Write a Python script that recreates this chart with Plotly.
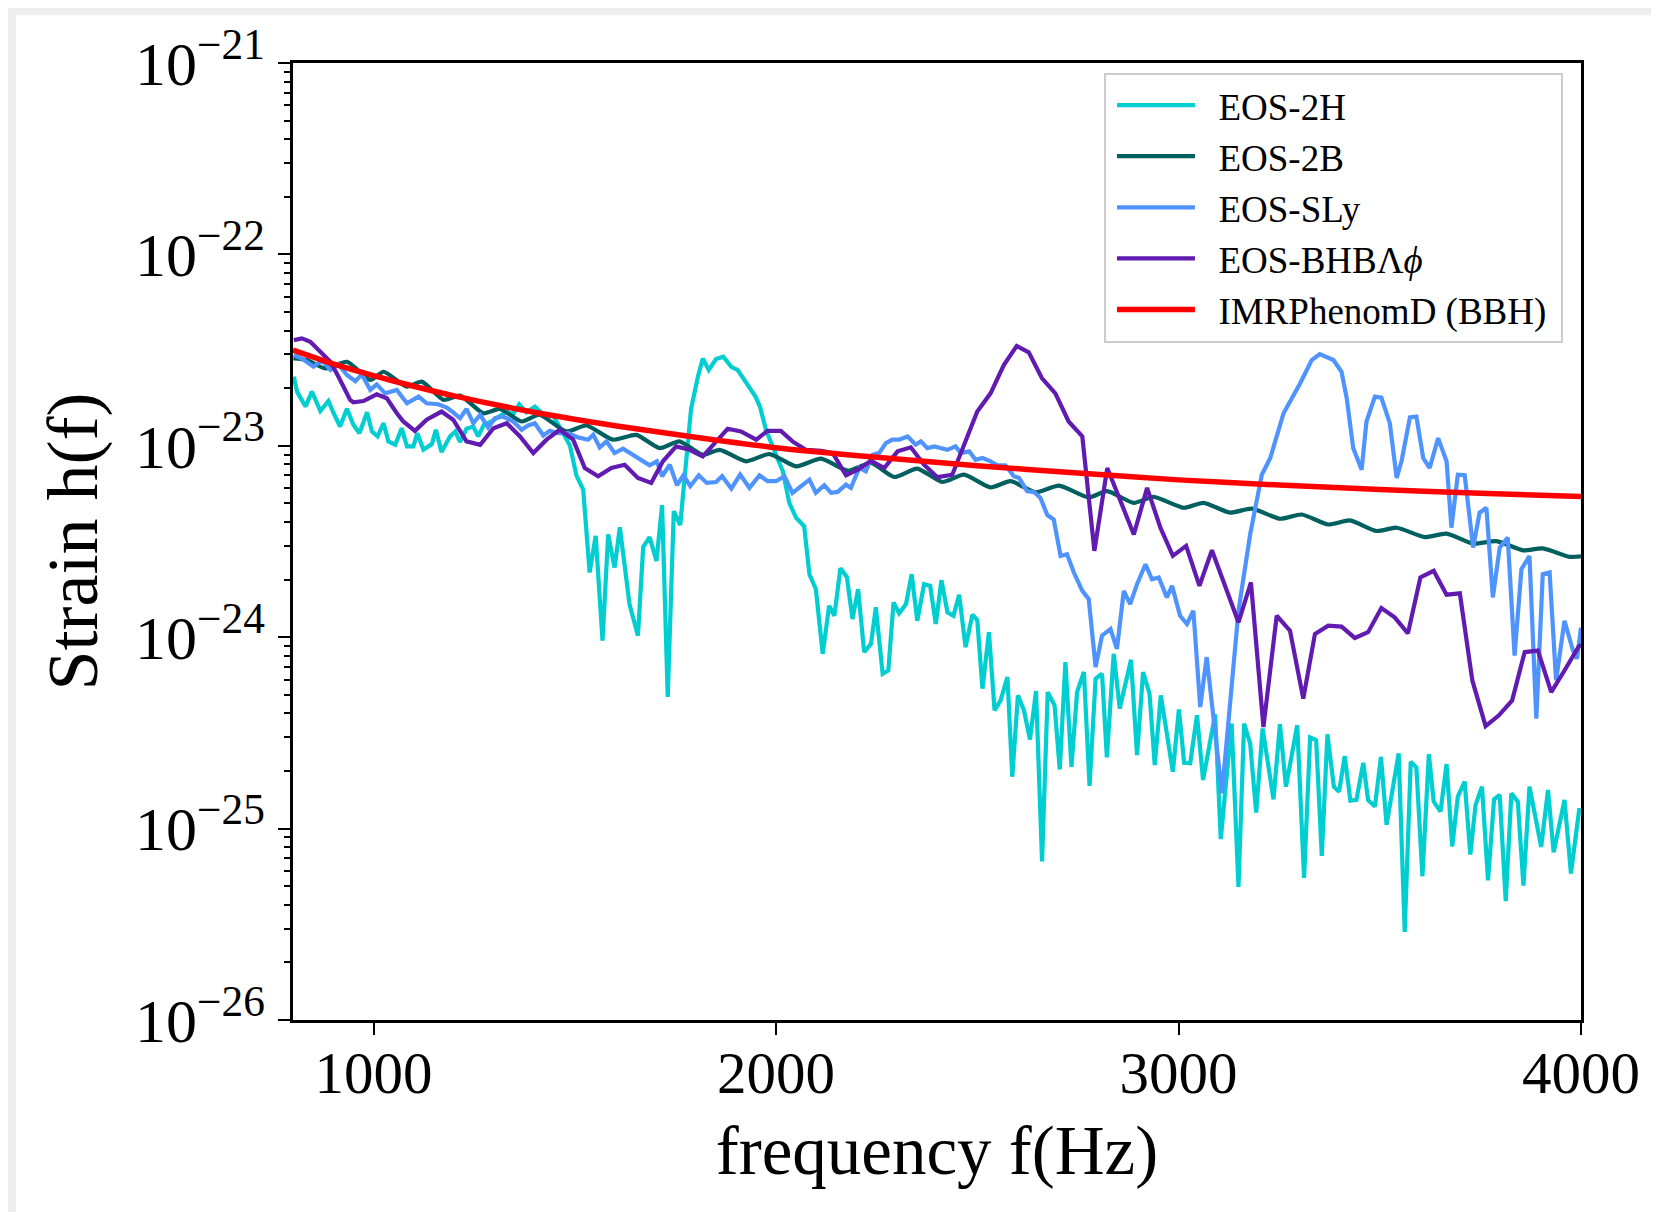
import numpy as np
import plotly.graph_objects as go

# frequencies in Hz; strain kept as log10 h(f)

# EOS-2H
f_2h = [802, 810, 831, 847, 868, 888, 901, 917, 934, 950, 965, 984, 996, 1010, 1025, 1037, 1054, 1070,
        1083, 1099, 1109, 1124, 1145, 1155, 1169, 1190, 1203, 1215, 1231, 1248, 1260, 1274, 1293, 1314,
        1331, 1347, 1362, 1380, 1401, 1422, 1446, 1471, 1488, 1504, 1521, 1537, 1552, 1569, 1583, 1599,
        1612, 1636, 1657, 1670, 1686, 1703, 1717, 1731, 1746, 1762, 1775, 1789, 1806, 1818, 1833, 1851,
        1869, 1889, 1905, 1924, 1949, 1960, 1975, 2000, 2017, 2033, 2050, 2070, 2083, 2099, 2116, 2132,
        2145, 2160, 2176, 2190, 2204, 2219, 2236, 2248, 2265, 2279, 2292, 2306, 2323, 2337, 2351, 2368,
        2383, 2397, 2411, 2426, 2441, 2455, 2471, 2488, 2500, 2513, 2529, 2543, 2558, 2575, 2587, 2601,
        2616, 2631, 2646, 2661, 2675, 2692, 2705, 2719, 2734, 2748, 2765, 2779, 2794, 2810, 2822, 2839,
        2854, 2882, 2897, 2912, 2928, 2941, 2956, 2986, 3001, 3014, 3029, 3046, 3061, 3091, 3105, 3132,
        3149, 3163, 3178, 3193, 3209, 3236, 3252, 3267, 3295, 3312, 3327, 3342, 3356, 3370, 3386, 3399,
        3413, 3427, 3442, 3459, 3471, 3488, 3503, 3517, 3547, 3562, 3577, 3591, 3606, 3622, 3634, 3651,
        3666, 3680, 3694, 3711, 3725, 3738, 3754, 3769, 3784, 3798, 3813, 3827, 3843, 3857, 3872, 3901,
        3918, 3932, 3959, 3975, 3996]
log_h_2h = [-22.639, -22.717, -22.795, -22.717, -22.818, -22.766, -22.830, -22.899, -22.807, -22.890,
            -22.934, -22.825, -22.925, -22.951, -22.882, -22.977, -22.994, -22.908, -23.003, -23.003,
            -22.934, -23.020, -22.991, -22.916, -23.033, -22.951, -22.925, -22.980, -22.911, -22.899,
            -22.951, -22.890, -22.873, -22.847, -22.821, -22.835, -22.783, -22.825, -22.795, -22.835,
            -22.842, -22.934, -22.998, -23.154, -23.229, -23.662, -23.471, -24.018, -23.463, -23.636,
            -23.425, -23.827, -23.992, -23.529, -23.477, -23.602, -23.310, -24.312, -23.341, -23.414,
            -23.099, -22.807, -22.639, -22.544, -22.604, -22.547, -22.535, -22.587, -22.604, -22.661,
            -22.743, -22.795, -22.916, -23.047, -23.133, -23.298, -23.376, -23.420, -23.671, -23.749,
            -24.087, -23.836, -23.888, -23.640, -23.685, -23.905, -23.749, -24.078, -24.035, -23.844,
            -24.191, -24.174, -23.818, -23.875, -23.827, -23.671, -23.914, -23.723, -23.732, -23.931,
            -23.702, -23.870, -23.888, -23.778, -24.052, -23.882, -23.910, -24.269, -23.974, -24.382,
            -24.330, -24.208, -24.729, -24.304, -24.382, -24.535, -24.281, -25.171, -24.287, -24.356,
            -24.691, -24.130, -24.677, -24.287, -24.182, -24.777, -24.217, -24.191, -24.628, -24.087,
            -24.373, -24.118, -24.616, -24.182, -24.295, -24.668, -24.304, -24.703, -24.378, -24.656,
            -24.659, -24.408, -24.746, -24.403, -25.055, -24.451, -25.305, -24.451, -24.555, -24.916,
            -24.477, -24.847, -24.455, -24.781, -24.460, -25.258, -24.524, -24.538, -25.142, -24.507,
            -24.781, -24.807, -24.621, -24.854, -24.850, -24.656, -24.850, -24.885, -24.625, -24.980,
            -24.607, -25.540, -24.651, -24.680, -25.249, -24.611, -24.859, -24.911, -24.663, -25.093,
            -24.833, -24.755, -25.136, -24.876, -24.781, -25.270, -24.847, -24.824, -25.379, -24.816,
            -24.859, -25.298, -24.781, -25.096, -24.798, -25.124, -24.850, -25.235, -24.893]

# EOS-2B
f_2b = [801, 835, 880, 934, 992, 1025, 1083, 1120, 1174, 1215, 1273, 1314, 1368, 1413, 1479, 1529, 1595,
        1653, 1711, 1760, 1818, 1860, 1926, 1984, 2050, 2112, 2178, 2236, 2294, 2351, 2413, 2467, 2533,
        2583, 2645, 2703, 2777, 2823, 2889, 2938, 3013, 3062, 3128, 3182, 3252, 3306, 3372, 3426, 3492,
        3542, 3612, 3666, 3732, 3790, 3856, 3905, 3971, 4000]
log_h_2b = [-22.544, -22.552, -22.596, -22.561, -22.656, -22.613, -22.691, -22.665, -22.760, -22.738,
            -22.830, -22.807, -22.873, -22.838, -22.925, -22.894, -22.968, -22.943, -23.012, -22.977,
            -23.047, -23.021, -23.081, -23.043, -23.107, -23.067, -23.130, -23.090, -23.163, -23.119,
            -23.189, -23.151, -23.217, -23.185, -23.243, -23.208, -23.269, -23.237, -23.298, -23.267,
            -23.324, -23.298, -23.349, -23.328, -23.381, -23.359, -23.411, -23.390, -23.445, -23.428,
            -23.477, -23.459, -23.511, -23.498, -23.546, -23.536, -23.580, -23.578]

# EOS-SLy
f_sly = [802, 822, 851, 872, 893, 913, 934, 955, 971, 992, 1008, 1029, 1058, 1083, 1112, 1132, 1161,
         1182, 1198, 1215, 1231, 1248, 1265, 1285, 1302, 1322, 1347, 1368, 1384, 1401, 1422, 1438, 1459,
         1484, 1508, 1533, 1546, 1562, 1579, 1599, 1620, 1645, 1665, 1686, 1704, 1717, 1736, 1754, 1770,
         1787, 1808, 1828, 1851, 1866, 1889, 1911, 1934, 1959, 1979, 2000, 2021, 2041, 2083, 2099, 2120,
         2137, 2153, 2174, 2186, 2207, 2223, 2240, 2256, 2273, 2289, 2306, 2327, 2347, 2360, 2376, 2393,
         2409, 2426, 2446, 2459, 2480, 2496, 2513, 2533, 2550, 2570, 2591, 2604, 2624, 2641, 2657, 2674,
         2690, 2707, 2723, 2740, 2761, 2777, 2794, 2810, 2831, 2847, 2864, 2880, 2897, 2918, 2934, 2951,
         2971, 2984, 3004, 3021, 3037, 3054, 3070, 3108, 3149, 3178, 3207, 3228, 3261, 3302, 3331, 3351,
         3385, 3405, 3418, 3434, 3455, 3467, 3488, 3504, 3525, 3542, 3554, 3575, 3591, 3608, 3624, 3645,
         3666, 3678, 3694, 3711, 3732, 3748, 3765, 3781, 3798, 3818, 3835, 3852, 3872, 3889, 3905, 3922,
         3938, 3959, 3980, 3990, 4000]
log_h_sly = [-22.526, -22.544, -22.587, -22.552, -22.604, -22.575, -22.630, -22.662, -22.627, -22.708,
             -22.679, -22.726, -22.708, -22.778, -22.743, -22.778, -22.783, -22.800, -22.825, -22.856,
             -22.807, -22.882, -22.838, -22.904, -22.856, -22.847, -22.873, -22.916, -22.894, -22.882,
             -22.946, -22.922, -22.934, -22.934, -22.956, -22.968, -22.942, -23.008, -22.977, -23.038,
             -23.015, -23.047, -23.078, -23.102, -23.081, -23.159, -23.099, -23.206, -23.154, -23.211,
             -23.154, -23.194, -23.189, -23.159, -23.223, -23.150, -23.220, -23.154, -23.185, -23.185,
             -23.159, -23.246, -23.177, -23.246, -23.206, -23.246, -23.241, -23.203, -23.220, -23.116,
             -23.133, -23.047, -23.038, -22.986, -22.968, -22.968, -22.951, -22.994, -22.977, -23.012,
             -23.003, -23.012, -23.021, -23.003, -23.038, -23.029, -23.073, -23.064, -23.081, -23.102,
             -23.102, -23.159, -23.168, -23.237, -23.241, -23.272, -23.362, -23.385, -23.575, -23.567,
             -23.662, -23.758, -23.801, -24.156, -23.992, -23.957, -24.061, -23.758, -23.827, -23.723,
             -23.619, -23.697, -23.688, -23.792, -23.732, -23.888, -23.931, -23.862, -24.365, -24.104,
             -24.816, -23.862, -23.463, -23.151, -23.064, -22.830, -22.674, -22.552, -22.521, -22.552,
             -22.613, -22.752, -23.012, -23.125, -22.873, -22.743, -22.748, -22.882, -23.168, -23.081,
             -22.852, -22.847, -23.064, -23.116, -22.960, -23.081, -23.428, -23.151, -23.154, -23.532,
             -23.350, -23.324, -23.792, -23.532, -23.480, -24.096, -23.645, -23.576, -24.425, -23.671,
             -23.662, -24.226, -23.914, -24.070, -24.113, -23.950]

# EOS-BHB Lambda phi
f_bhb = [802, 822, 843, 868, 893, 913, 942, 950, 975, 1008, 1033, 1058, 1074, 1103, 1132, 1169, 1198,
         1231, 1265, 1298, 1331, 1364, 1397, 1430, 1463, 1496, 1525, 1558, 1591, 1624, 1657, 1690, 1719,
         1752, 1785, 1818, 1851, 1880, 1913, 1951, 1979, 2012, 2041, 2074, 2112, 2141, 2174, 2203, 2236,
         2269, 2302, 2335, 2368, 2401, 2438, 2467, 2500, 2533, 2566, 2598, 2628, 2661, 2694, 2727, 2761,
         2791, 2823, 2889, 2922, 2955, 2986, 3019, 3052, 3083, 3149, 3180, 3211, 3244, 3277, 3310, 3339,
         3372, 3405, 3438, 3471, 3504, 3537, 3570, 3601, 3634, 3666, 3699, 3730, 3763, 3796, 3829, 3860,
         3893, 3926, 3959, 3994, 4000]
log_h_bhb = [-22.448, -22.439, -22.457, -22.509, -22.561, -22.639, -22.760, -22.773, -22.766, -22.731,
             -22.752, -22.830, -22.873, -22.922, -22.864, -22.821, -22.864, -22.977, -22.995, -22.908,
             -22.882, -22.951, -23.038, -22.968, -22.916, -22.968, -23.116, -23.159, -23.116, -23.099,
             -23.168, -23.194, -23.081, -23.003, -23.021, -23.055, -22.977, -22.911, -22.925, -22.968,
             -22.922, -22.922, -22.977, -23.021, -23.026, -23.038, -23.154, -23.125, -23.078, -23.116,
             -23.029, -23.008, -23.099, -23.164, -23.151, -22.994, -22.821, -22.726, -22.578, -22.478,
             -22.512, -22.648, -22.726, -22.873, -22.951, -23.549, -23.116, -23.463, -23.220, -23.428,
             -23.575, -23.523, -23.732, -23.546, -23.922, -23.714, -24.469, -23.888, -23.966, -24.321,
             -23.983, -23.940, -23.945, -24.004, -23.974, -23.848, -23.896, -23.980, -23.688, -23.653,
             -23.778, -23.771, -24.226, -24.465, -24.408, -24.330, -24.078, -24.070, -24.287, -24.174,
             -24.049, -24.040]

# IMRPhenomD (BBH)
f_bbh = [800, 900, 1000, 1100, 1200, 1400, 1600, 1800, 2000, 2250, 2500, 2750, 3000, 3250, 3500, 3750, 4000]
log_h_bbh = [-22.500, -22.572, -22.633, -22.689, -22.739, -22.825, -22.895, -22.955, -23.010, -23.060,
             -23.104, -23.142, -23.178, -23.205, -23.228, -23.248, -23.265]

SERIF = "Liberation Serif, Times New Roman, serif"
PAD = "\u00a0\u00a0"

fig = go.Figure()


def add_curve(f, logh, name, color, width, shape="linear"):
    fig.add_trace(go.Scatter(x=f, y=10.0 ** np.array(logh), mode="lines", name=PAD + name + "\u00a0",
                             legendgroup=name,
                             line=dict(color=color, width=width, shape=shape, smoothing=0.6)))


add_curve(f_2h, log_h_2h, "EOS-2H", "#00CED1", 4.2)
add_curve(f_2b, log_h_2b, "EOS-2B", "#005f5f", 4.2, "spline")
add_curve(f_sly, log_h_sly, "EOS-SLy", "#4f93ff", 4.2)
add_curve(f_bhb, log_h_bhb, "EOS-BHBΛ<i>ϕ</i>", "#611bb0", 4.2)
add_curve(f_bbh, log_h_bbh, "IMRPhenomD (BBH)", "#ff0000", 5.5, "spline")

major = [10.0 ** p for p in range(-26, -20)]
major_text = ["10<sup>−%d</sup>" % -p for p in range(-26, -20)]
minor = [m * 10.0 ** p for p in range(-26, -21) for m in range(2, 10)]

fig.update_layout(
    width=1651, height=1204,
    margin=dict(l=285, r=78, t=50, b=192),
    paper_bgcolor="#eeeeee", plot_bgcolor="white",
    font=dict(family=SERIF, color="black"),
    shapes=[dict(type="rect", xref="paper", yref="paper", x0=-0.2150, x1=1.2, y0=-0.3, y1=1.050,
                 fillcolor="white", line_width=0, layer="below")],
    legend=dict(x=0.986, y=0.99, xanchor="right", yanchor="top", bgcolor="white",
                bordercolor="#cccccc", borderwidth=2, font=dict(size=37),
                tracegroupgap=0, itemwidth=78, indentation=6),
)

fig.update_xaxes(range=[800, 4000], tickvals=[1000, 2000, 3000, 4000],
                 ticks="outside", ticklen=12, tickwidth=2, tickcolor="black",
                 showline=True, linecolor="black", linewidth=2.5, mirror=True,
                 showgrid=False, zeroline=False, tickfont=dict(size=59), ticklabelstandoff=-13,
                 title=dict(text="frequency f(Hz)", font=dict(size=69), standoff=22))

fig.update_yaxes(type="log", range=[-26, -21], tickvals=major, ticktext=major_text,
                 ticks="outside", ticklen=12, tickwidth=2, tickcolor="black",
                 minor=dict(tickvals=minor, ticks="outside", ticklen=6, tickwidth=1.5, tickcolor="black"),
                 showline=True, linecolor="black", linewidth=2.5, mirror=True,
                 showgrid=False, zeroline=False, tickfont=dict(size=62), ticklabelstandoff=1,
                 title=dict(text="Strain h(f)", font=dict(size=72), standoff=14))

fig.write_html("out.html")
